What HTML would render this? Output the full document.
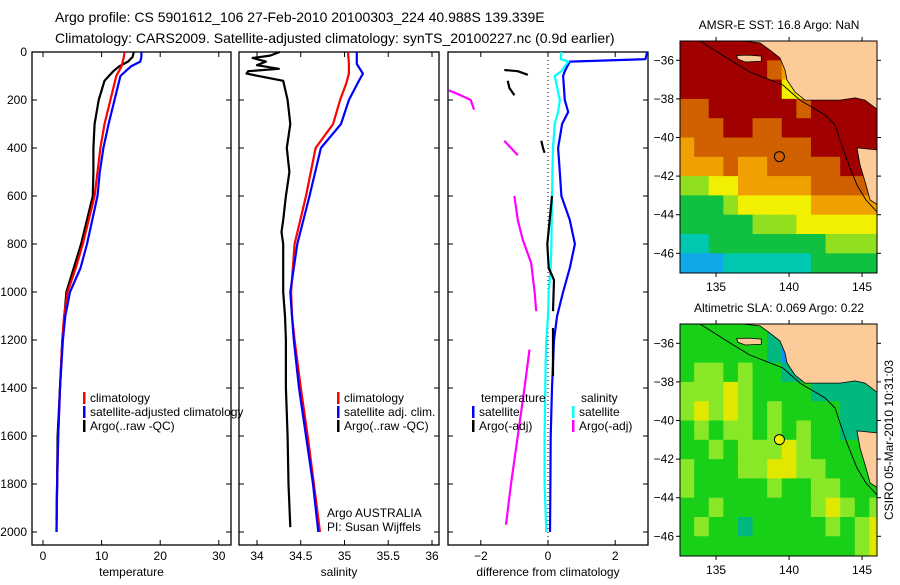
<!DOCTYPE html>
<html><head><meta charset="utf-8"><style>
body{margin:0;background:#fff;width:900px;height:580px;overflow:hidden;font-family:"Liberation Sans",sans-serif}
svg text{font-family:"Liberation Sans",sans-serif}
</style></head><body>
<svg id="fig" width="900" height="580" xmlns="http://www.w3.org/2000/svg">
<text x="55" y="22" font-size="14">Argo profile: CS 5901612_106 27-Feb-2010 20100303_224 40.988S 139.339E</text>
<text x="55" y="43" font-size="14">Climatology: CARS2009. Satellite-adjusted climatology: synTS_20100227.nc (0.9d earlier)</text>
</svg>
<script>
// ---------- data ----------
const tDepth=[0,20,40,60,100,200,300,400,500,600,800,900,1000,1100,1200,1400,1600,1800,2000];
const tClim=[13.9,13.8,13.6,13.4,12.5,11.5,10.5,9.8,9.3,8.8,6.8,5.6,4.2,3.6,3.3,2.9,2.6,2.4,2.3];
const tSat=[16.8,16.8,16.6,15,13.2,12.2,11.2,10.3,9.7,9.3,7.5,6.4,4.6,3.8,3.4,2.9,2.6,2.4,2.3];
const argoTDepth=[0,20,40,60,80,120,200,300,400,500,600,800,1000,1200,1400,1600,1800,1950];
const argoT=[15.5,15.3,14.5,13,12,10.5,9.5,8.8,8.6,8.6,8.5,6.5,4,3.3,2.9,2.5,2.4,2.3];
const sDepth=[0,50,90,130,200,300,400,600,800,1000,1100,1200,1400,1600,1800,2000];
const sClim=[35.04,35.05,35.05,35.02,34.95,34.87,34.67,34.56,34.43,34.39,34.4,34.43,34.5,34.58,34.65,34.72];
const sSat=[35.14,35.14,35.21,35.15,35.05,34.96,34.73,34.6,34.46,34.38,34.4,34.42,34.48,34.56,34.64,34.7];
const argoSDepth=[0,15,25,40,55,70,80,90,120,200,300,400,500,600,700,750,800,1000,1100,1200,1400,1600,1800,1980];
const argoS=[34.26,34.15,33.95,34.1,34.0,34.25,33.9,33.88,34.3,34.35,34.38,34.34,34.37,34.33,34.3,34.28,34.3,34.3,34.32,34.33,34.33,34.35,34.36,34.38];
const dDepth=[0,30,40,80,100,200,250,300,400,500,600,700,800,900,1000,1100,1200,1300,1400,1600,1800,2000];
const dTSat=[2.95,2.9,0.65,0.5,0.45,0.5,0.6,0.42,0.3,0.35,0.4,0.65,0.8,0.65,0.45,0.27,0.18,0.15,0.12,0.08,0.07,0.06];
const dSSat=[0.4,0.38,0.6,0.4,0.2,0.35,0.3,0.2,0.15,0.13,0.12,0.11,0.1,0.08,0.02,0,-0.05,-0.07,-0.08,-0.1,-0.1,-0.05];
const dTArgoDepth=[75,80,95,null,120,150,180,null,370,400,420,null,600,700,800,900,950,1080,null,1150,1350];
const dTArgo=[-1.3,-0.9,-0.6,null,-1.2,-1.15,-1.0,null,-0.2,-0.15,-0.1,null,0.12,0.05,-0.02,0.02,0.18,0.15,null,0.15,0.15];
const dSArgoDepth=[160,180,200,240,null,370,400,430,null,600,700,783,860,880,1000,1080,null,1240,1400,1600,1800,1970];
const dSArgo=[-2.95,-2.6,-2.3,-2.2,null,-1.3,-1.1,-0.9,null,-1.0,-0.9,-0.75,-0.55,-0.5,-0.4,-0.35,null,-0.55,-0.7,-0.9,-1.1,-1.25];
const depthTicks=[0,200,400,600,800,1000,1200,1400,1600,1800,2000];
const tTicks=[0,10,20,30], sTicks=[34,34.5,35,35.5,36], dTicks=[-2,0,2];
const latTicks=[-36,-38,-40,-42,-44,-46], lonTicks=[135,140,145];
const gridLon0=132.5, gridLat0=-35;
const sstGrid=[
[9,9,9,9,9,9,9,9,9,9,9,9,9,9],
[9,9,9,9,9,9,8,7,9,9,9,9,9,9],
[9,9,9,9,9,9,9,6,6,9,9,9,9,9],
[8,8,9,9,9,9,9,9,8,9,9,9,9,9],
[8,8,8,9,9,8,8,9,9,9,9,9,9,9],
[7,8,8,8,8,8,8,8,8,9,9,9,9,9],
[7,7,7,8,7,7,8,8,8,8,8,9,9,8],
[5,5,6,6,7,7,7,7,7,8,8,8,8,8],
[4,4,4,5,6,6,6,6,6,7,7,7,7,7],
[4,4,4,4,4,5,5,5,6,6,6,6,6,6],
[3,3,4,4,4,4,4,4,4,4,5,5,5,5],
[2,2,2,3,3,3,3,3,3,4,4,4,4,4]];
const slaGrid=[
[4,4,4,4,4,4,3,3,2,2,3,3,3,3],
[4,4,4,4,4,4,3,2,2,3,3,3,3,3],
[4,5,5,4,5,4,4,3,3,3,3,3,3,3],
[5,5,5,6,5,4,4,4,4,3,3,3,3,3],
[5,6,5,6,5,4,5,4,4,4,4,3,3,3],
[4,5,4,5,5,4,5,4,5,4,4,3,3,3],
[4,4,5,4,5,5,5,6,5,4,4,4,4,3],
[5,4,4,4,5,5,6,6,5,5,4,4,4,4],
[5,4,4,4,4,4,5,4,4,5,5,4,4,4],
[4,4,5,4,4,4,4,4,4,5,6,5,4,5],
[4,5,4,4,3,4,4,4,4,4,5,4,5,6],
[4,4,4,4,4,4,4,4,4,4,4,4,5,6]];
const mainland=[[136.78,-35],[138.0,-35.1],[138.69,-35.47],[139.38,-35.88],[139.72,-36.5],[139.86,-37.02],[140.41,-37.64],[141.09,-38.06],[143.49,-38.06],[144.52,-37.95],[145.2,-38.06],[146.1,-38.58],[146.1,-35]];
const tasmania=[[144.65,-40.54],[146.1,-40.65],[146.1,-43.5],[145.55,-43.24],[145.27,-42.46],[144.86,-41.42]];
const kangaroo=[[136.4,-35.75],[137.2,-35.73],[138.1,-35.78],[138.1,-36.05],[137.0,-36.09],[136.5,-35.95]];
const isobath=[[133.9,-35],[135.95,-35.98],[137.3,-36.6],[139.58,-37.28],[140.75,-38.06],[142.46,-38.83],[143.15,-39.35],[143.49,-40.13],[143.97,-41.17],[144.65,-42.46],[145.27,-43.24],[146.03,-43.86]];
const argoLon=139.339, argoLat=-40.988;

// ---------- helpers ----------
const NS="http://www.w3.org/2000/svg", svg=document.getElementById('fig');
function mk(tag,attrs,parent){const e=document.createElementNS(NS,tag);for(const k in attrs)e.setAttribute(k,attrs[k]);(parent||svg).appendChild(e);return e;}
function txt(x,y,s,size,anchor,parent){const e=mk('text',{x:x,y:y,'font-size':size,'text-anchor':anchor||'start'},parent);e.textContent=s;return e;}
const Y0=52,Y1=545; const yD=d=>52+d*0.24;
function line(xs,ds,fx,color,name,w){
  let d='',pen=false;
  for(let i=0;i<xs.length;i++){ if(xs[i]===null||ds[i]===null){pen=false;continue;}
    d+=(pen?'L':'M')+fx(xs[i]).toFixed(1)+' '+yD(ds[i]).toFixed(1);pen=true;}
  const p=mk('path',{d:d,fill:'none',stroke:color,'stroke-width':w||2.2,'stroke-linejoin':'round'});
  
  
  return p;
}
function panel(x0,x1,fx,xt,label,name){
  const g=mk('g',{});
  
  
  mk('rect',{x:x0,y:Y0,width:x1-x0,height:Y1-Y0,fill:'none',stroke:'#000','stroke-width':1.3},g);
  depthTicks.forEach(d=>{const y=yD(d);mk('line',{x1:x0,y1:y,x2:x0+5,y2:y,stroke:'#000'},g);mk('line',{x1:x1,y1:y,x2:x1-5,y2:y,stroke:'#000'},g);});
  xt.forEach(v=>{const x=fx(v);mk('line',{x1:x,y1:Y1,x2:x,y2:Y1-5,stroke:'#000'},g);mk('line',{x1:x,y1:Y0,x2:x,y2:Y0+5,stroke:'#000'},g);
    const t=txt(x,560,String(v).replace('-','\u2212'),12,'middle',g);});
  const l=txt((x0+x1)/2,576,label,12,'middle',g);
  return g;
}
const fT=v=>43+v*5.86, fS=v=>257+(v-34)*87.5, fDf=v=>548+v*33.6;
depthTicks.forEach(d=>{const t=txt(27,yD(d)+4,String(d),12,'end');});
panel(32,231,fT,tTicks,'temperature','temperature-panel');
panel(239,439,fS,sTicks,'salinity','salinity-panel');
panel(448,648,fDf,dTicks,'difference from climatology','difference-panel');
mk('line',{x1:fDf(0),y1:Y0,x2:fDf(0),y2:Y1,stroke:'#000','stroke-dasharray':'1,3'});
line(argoT,argoTDepth,fT,'#000','argo-temperature-line');
line(tClim,tDepth,fT,'#f00','climatology-temperature-line');
line(tSat,tDepth,fT,'#00f','satellite-temperature-line');
line(argoS,argoSDepth,fS,'#000','argo-salinity-line');
line(sClim,sDepth,fS,'#f00','climatology-salinity-line');
line(sSat,sDepth,fS,'#00f','satellite-salinity-line');
line(dTSat,dDepth,fDf,'#00f','satellite-temperature-diff-line');
line(dSSat,dDepth,fDf,'#0ff','satellite-salinity-diff-line');
line(dTArgo,dTArgoDepth,fDf,'#000','argo-temperature-diff-line');
line(dSArgo,dSArgoDepth,fDf,'#f0f','argo-salinity-diff-line');
function leg(x,y,c,s,name){const g=mk('g',{});
  if(c)mk('rect',{x:x,y:y-10,width:2.5,height:12,fill:c},g);txt(x+7,y,s,12,'start',g);}
leg(83,402,'#f00','climatology','legend-entry-climatology');
leg(83,416,'#00f','satellite-adjusted climatology','legend-entry-satellite');
leg(83,430,'#000','Argo(..raw -QC)','legend-entry-argo');
leg(337,402,'#f00','climatology','legend-entry-climatology-s');
leg(337,416,'#00f','satellite adj. clim.','legend-entry-satellite-s');
leg(337,430,'#000','Argo(..raw -QC)','legend-entry-argo-s');
leg(474,402,null,'temperature','legend-header-temperature');
leg(574,402,null,'salinity','legend-header-salinity');
leg(472,416,'#00f','satellite','legend-entry-temp-satellite');
leg(472,430,'#000','Argo(-adj)','legend-entry-temp-argo');
leg(572,416,'#0ff','satellite','legend-entry-sal-satellite');
leg(572,430,'#f0f','Argo(-adj)','legend-entry-sal-argo');
txt(327,517,'Argo AUSTRALIA',12);
txt(327,531,'PI: Susan Wijffels',12);

// ---------- maps ----------
const sstCol={2:'#10a8e8',3:'#00c8b0',4:'#10c040',5:'#90e020',6:'#f0f000',7:'#f0a000',8:'#d06000',9:'#a00000'};
const slaCol={2:'#1890f0',3:'#00b880',4:'#18d018',5:'#88e828',6:'#e0e800',7:'#f0a000'};
function map(top,grid,col,title,name,markerFill,id){
  const X0=680,X1=877,Ytop=top,Ybot=top+232;
  const fx=lon=>680+(lon-132.53)*14.6, fy=lat=>Ytop+(-35-lat)*19.3;
  const g=mk('g',{});
  const cp=mk('clipPath',{id:id},g);mk('rect',{x:X0,y:Ytop,width:X1-X0,height:Ybot-Ytop},cp);
  const inner=mk('g',{'clip-path':'url(#'+id+')'},g);
  grid.forEach((row,r)=>row.forEach((v,c)=>{
    const x=fx(gridLon0+c),y=fy(gridLat0-r);
    const cell=mk('rect',{x:x,y:y,width:14.6+0.5,height:19.3+0.5,fill:col[v]},inner);
    
    
  }));
  const poly=(pts,n)=>{const p=mk('polygon',{points:pts.map(q=>fx(q[0]).toFixed(1)+','+fy(q[1]).toFixed(1)).join(' '),fill:'#fbcb9a',stroke:'#000','stroke-width':0.8},inner);};
  poly(mainland,'mainland');poly(tasmania,'tasmania');poly(kangaroo,'kangaroo-island');
  const iso=mk('polyline',{points:isobath.map(q=>fx(q[0]).toFixed(1)+','+fy(q[1]).toFixed(1)).join(' '),fill:'none',stroke:'#000','stroke-width':0.9},inner);
  
  const m=mk('circle',{cx:fx(argoLon),cy:fy(argoLat),r:5,fill:markerFill,stroke:'#000','stroke-width':1},g);
  
  
  mk('rect',{x:X0,y:Ytop,width:X1-X0,height:Ybot-Ytop,fill:'none',stroke:'#000','stroke-width':1},g);
  latTicks.forEach(l=>{const y=fy(l);mk('line',{x1:X0-4,y1:y,x2:X0,y2:y,stroke:'#000'},g);mk('line',{x1:X1,y1:y,x2:X1+4,y2:y,stroke:'#000'},g);
    const t=txt(X0-6,y+4,'\u2212'+Math.abs(l),12,'end',g);});
  lonTicks.forEach(l=>{const x=fx(l);mk('line',{x1:x,y1:Ybot,x2:x,y2:Ybot+4,stroke:'#000'},g);mk('line',{x1:x,y1:Ytop-4,x2:x,y2:Ytop,stroke:'#000'},g);
    const t=txt(x,Ybot+18,String(l),12,'middle',g);});
  const tt=txt(779,top-12,title,12,'middle',g);
}
map(41,sstGrid,sstCol,'AMSR-E SST: 16.8 Argo: NaN','sst-map','none','clipSST');
map(324,slaGrid,slaCol,'Altimetric SLA: 0.069 Argo: 0.22','sla-map','#f0f000','clipSLA');
const stamp=txt(0,0,'CSIRO 05-Mar-2010 10:31:03',12,'middle');
stamp.setAttribute('transform','translate(893,440) rotate(-90)');


</script>
</body></html>
